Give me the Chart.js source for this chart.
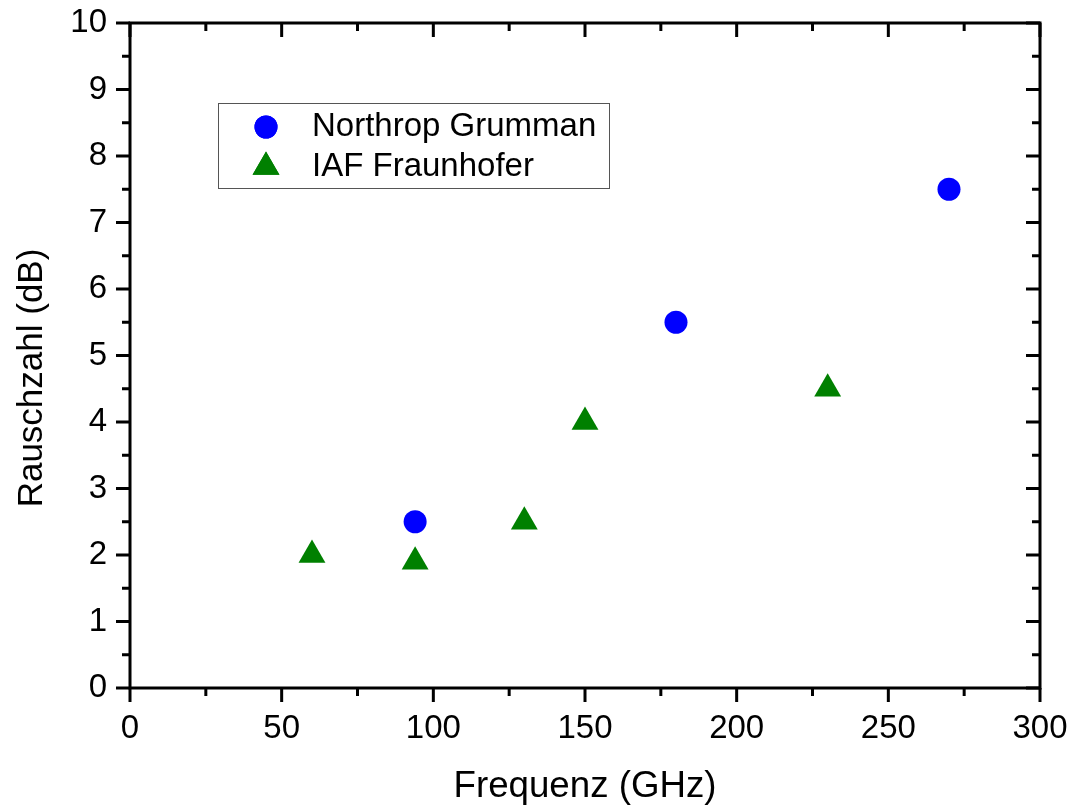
<!DOCTYPE html>
<html>
<head>
<meta charset="utf-8">
<script src="https://cdn.jsdelivr.net/npm/chart.js@4/dist/chart.umd.min.js"></script>
<style>
  body { margin: 0; background: #fff; }
  #wrap { width: 1074px; height: 809px; }
</style>
</head>
<body>
<div id="wrap"><canvas id="myChart"></canvas></div>
<script>
// Frequenz (GHz) / Rauschzahl (dB)
let ngFreq = [94, 180, 270];
let ngNoise = [2.5, 5.5, 7.5];
let iafFreq = [60, 94, 130, 150, 230];
let iafNoise = [2.0, 1.9, 2.5, 4.0, 4.5];

let xTicks = [0, 50, 100, 150, 200, 250, 300];
let yTicks = [0, 1, 2, 3, 4, 5, 6, 7, 8, 9, 10];
let yTitle = "Rauschzahl (dB)";

let fontName = "'Liberation Sans', Arial, sans-serif";

function pts(xs, ys) {
    return xs.map((x, i) => ({ x: x, y: ys[i] }));
}

// frame with major/minor ticks on all four sides
const frameTicks = {
    id: "frameTicks",
    afterDraw(chart) {
        const ctx = chart.ctx;
        const a = chart.chartArea;
        const xs = chart.scales.x, ys = chart.scales.y;
        ctx.save();
        ctx.strokeStyle = "#000";
        ctx.lineWidth = 3;
        ctx.lineCap = "butt";
        ctx.beginPath();
        for (let v = 0; v <= 300; v += 25) {
            const px = xs.getPixelForValue(v);
            const len = v % 50 === 0 ? 14 : 8;
            ctx.moveTo(px, a.bottom); ctx.lineTo(px, a.bottom + len);
            ctx.moveTo(px, a.top); ctx.lineTo(px, a.top + len);
        }
        for (let v = 0; v <= 10; v += 0.5) {
            const py = ys.getPixelForValue(v);
            const len = Number.isInteger(v) ? 14 : 8;
            ctx.moveTo(a.left, py); ctx.lineTo(a.left - len, py);
            ctx.moveTo(a.right, py); ctx.lineTo(a.right - len, py);
        }
        ctx.stroke();
        ctx.strokeRect(a.left, a.top, a.right - a.left, a.bottom - a.top);

        // y axis title (sits a bit below the plot centre in the original)
        ctx.translate(32, 378);
        ctx.rotate(-Math.PI / 2);
        ctx.font = "35px " + fontName;
        ctx.fillStyle = "#000";
        ctx.textAlign = "center";
        ctx.textBaseline = "middle";
        ctx.fillText(yTitle, 0, 0);
        ctx.restore();
    }
};

// boxed legend inside the plot
const boxLegend = {
    id: "boxLegend",
    afterDraw(chart) {
        const ctx = chart.ctx;
        ctx.save();
        ctx.strokeStyle = "#555";
        ctx.lineWidth = 1;
        ctx.strokeRect(218.5, 103.5, 391, 85);
        ctx.font = "33px " + fontName;
        ctx.textBaseline = "middle";
        ctx.textAlign = "left";
        const rows = [127, 167];
        chart.data.datasets.forEach((ds, i) => {
            ctx.fillStyle = ds.backgroundColor;
            Chart.helpers.drawPoint(ctx, {
                pointStyle: ds.pointStyle,
                radius: ds.pointRadius,
                borderWidth: 0,
                rotation: 0
            }, 266, rows[i]);
            ctx.fill();
            ctx.fillStyle = "#000";
            ctx.fillText(ds.label, 312, rows[i]);
        });
        ctx.restore();
    }
};

new Chart(document.getElementById("myChart"), {
    type: "scatter",
    data: {
        datasets: [
            {
                label: "Northrop Grumman",
                data: pts(ngFreq, ngNoise),
                pointStyle: "circle",
                pointRadius: 11.5,
                backgroundColor: "#0000ff",
                borderWidth: 0
            },
            {
                label: "IAF Fraunhofer",
                data: pts(iafFreq, iafNoise),
                pointStyle: "triangle",
                pointRadius: 15.5,
                backgroundColor: "#008000",
                borderWidth: 0
            }
        ]
    },
    options: {
        responsive: true,
        maintainAspectRatio: false,
        animation: false,
        events: [],
        layout: { padding: { top: 23, right: 34, left: 0, bottom: 0 } },
        plugins: {
            legend: { display: false },
            tooltip: { enabled: false }
        },
        scales: {
            x: {
                type: "linear",
                min: 0,
                max: 300,
                afterFit(s) {
                    s.height = 121;
                    s.paddingLeft = 0;
                    s.paddingRight = 0;
                },
                afterBuildTicks(s) { s.ticks = xTicks.map(v => ({ value: v })); },
                grid: { display: false },
                border: { display: false },
                ticks: {
                    color: "#000",
                    padding: 13,
                    maxRotation: 0,
                    font: { family: fontName, size: 33 }
                },
                title: {
                    display: true,
                    text: "Frequenz (GHz)",
                    color: "#000",
                    padding: { top: 0, bottom: 0 },
                    font: { family: fontName, size: 36.7 }
                }
            },
            y: {
                type: "linear",
                min: 0,
                max: 10,
                afterFit(s) {
                    s.width = 130;
                    s.paddingTop = 0;
                    s.paddingBottom = 0;
                },
                afterBuildTicks(s) { s.ticks = yTicks.map(v => ({ value: v })); },
                grid: { display: false },
                border: { display: false },
                ticks: {
                    color: "#000",
                    padding: 15,
                    font: { family: fontName, size: 33 }
                },
                title: { display: false }
            }
        }
    },
    plugins: [frameTicks, boxLegend]
});
</script>
</body>
</html>
